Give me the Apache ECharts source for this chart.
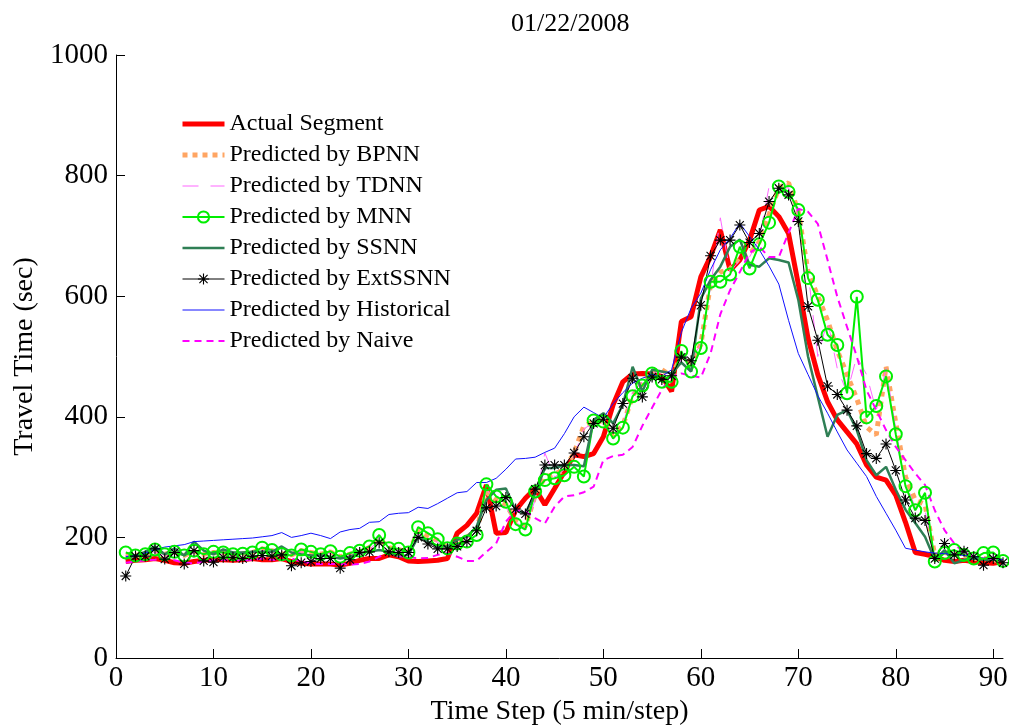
<!DOCTYPE html>
<html>
<head>
<meta charset="utf-8">
<script src="https://cdn.jsdelivr.net/npm/echarts@6/dist/echarts.min.js"></script>
<style>
  html, body { margin: 0; padding: 0; background: #fff; }
  #chart { width: 1009px; height: 726px; }
</style>
</head>
<body>
<div id="chart"></div>
<script>
// travel time per 5-min step, steps 1..91
const actual = [160, 162, 163, 165, 162, 158, 157, 160, 162, 163, 163, 162, 163, 165, 163, 163, 165, 160, 157, 156, 156, 156,
  154, 157, 162, 165, 165, 171, 168, 161, 160, 161, 162, 165, 207, 220, 240, 287, 207, 208, 245, 265, 281, 254, 281, 309,
  337, 334, 339, 367, 420, 458, 471, 472, 471, 467, 442, 558, 566, 632, 666, 710, 643, 660, 693, 743, 749, 732, 704,
  620, 530, 470, 425, 395, 375, 355, 320, 300, 295, 270, 225, 175, 172, 168, 162, 160, 162, 160, 158, 157, 160]

const bpnn = [172, 170, 173, 178, 172, 176, 170, 177, 172, 175, 174, 172, 173, 175, 181, 178, 173, 171, 178, 175, 172, 176,
  168, 172, 176, 183, 198, 183, 180, 175, 210, 203, 195, 183, 188, 200, 212, 275, 262, 255, 228, 218, 270, 300, 305, 312,
  340, 385, 392, 393, 370, 385, 435, 455, 475, 478, 468, 500, 490, 520, 620, 640, 645, 665, 670, 690, 735, 780, 788,
  740, 640, 600, 560, 510, 470, 430, 383, 370, 483, 390, 300, 262, 255, 170, 175, 172, 168, 165, 165, 163, 160]

const tdnn = [170, 168, 172, 176, 170, 174, 169, 175, 170, 173, 172, 170, 172, 174, 178, 176, 172, 170, 176, 174, 170, 174,
  166, 170, 174, 180, 195, 182, 178, 174, 205, 200, 192, 182, 186, 198, 210, 280, 258, 250, 225, 215, 262, 340, 300, 312,
  335, 380, 390, 390, 372, 388, 440, 458, 472, 475, 465, 495, 495, 520, 615, 730, 640, 660, 665, 695, 782, 778, 780,
  735, 640, 500, 560, 480, 440, 500, 470, 410, 480, 380, 290, 250, 245, 165, 175, 170, 167, 165, 164, 162, 160]

const mnn = [175, 170, 172, 180, 172, 176, 170, 178, 172, 176, 175, 172, 173, 175, 183, 179, 172, 170, 180, 176, 172, 177,
  168, 174, 178, 185, 204, 182, 181, 175, 217, 207, 197, 182, 190, 193, 204, 288, 268, 259, 222, 213, 276, 295, 298, 303,
  317, 301, 394, 392, 364, 382, 434, 452, 472, 458, 458, 509, 475, 514, 624, 624, 636, 682, 646, 686, 722, 782, 773,
  743, 630, 594, 536, 519, 439, 599, 399, 418, 467, 371, 285, 245, 274, 160, 174, 179, 171, 165, 174, 175, 161]

const ssnn = [165, 170, 176, 185, 172, 182, 170, 193, 178, 172, 180, 175, 175, 176, 176, 176, 185, 175, 172, 170, 170, 168,
  165, 168, 174, 176, 179, 176, 168, 171, 201, 193, 185, 185, 196, 201, 218, 262, 279, 281, 245, 240, 273, 315, 315, 320,
  320, 318, 395, 406, 389, 420, 483, 442, 478, 475, 472, 490, 475, 596, 627, 649, 682, 694, 652, 649, 663, 660, 656,
  594, 500, 433, 367, 403, 411, 378, 328, 303, 317, 279, 246, 224, 201, 163, 179, 157, 163, 165, 163, 163, 162]

const extSsnn = [136, 169, 169, 181, 164, 175, 156, 178, 161, 159, 167, 167, 165, 169, 170, 169, 171, 153, 158, 160, 165, 165,
  149, 163, 175, 176, 191, 176, 175, 175, 200, 189, 181, 181, 185, 193, 211, 249, 252, 266, 247, 239, 280, 320, 320, 320,
  340, 367, 389, 396, 381, 422, 464, 433, 466, 462, 468, 499, 493, 585, 667, 693, 693, 718, 689, 704, 757, 779, 768,
  724, 583, 527, 451, 437, 411, 385, 339, 331, 355, 311, 262, 232, 228, 165, 190, 171, 177, 168, 154, 165, 158]

const historical = [168, 170, 174, 180, 184, 186, 188, 193, 194, 195, 196, 197, 198, 199, 201, 203, 208, 200, 203, 207, 203, 198,
  209, 213, 215, 225, 226, 238, 240, 241, 250, 248, 256, 265, 274, 276, 291, 291, 298, 313, 330, 331, 333, 341, 348, 372,
  400, 416, 407, 398, 422, 440, 456, 464, 470, 467, 478, 540, 580, 605, 644, 677, 696, 721, 699, 677, 650, 620, 560,
  505, 470, 435, 406, 375, 345, 323, 301, 268, 240, 212, 182, 179, 176, 174, 173, 172, 170, 168, 166, 165, 163]

const naive = [158, 160, 162, 163, 165, 162, 158, 157, 160, 162, 163, 163, 162, 163, 165, 163, 163, 165, 160, 157, 156, 156,
  156, 155, 156, 160, 168, 174, 169, 168, 165, 166, 171, 174, 168, 161, 161, 176, 190, 226, 245, 243, 232, 223, 251, 268,
  270, 275, 284, 328, 335, 337, 350, 385, 415, 445, 467, 472, 468, 465, 505, 570, 610, 640, 672, 682, 665, 665, 705,
  745, 740, 720, 660, 599, 549, 500, 444, 411, 378, 350, 328, 306, 287, 245, 212, 190, 174, 168, 165, 164, 163]

const xTicks = [0, 10, 20, 30, 40, 50, 60, 70, 80, 90]
const yTicks = [0, 200, 400, 600, 800, 1000]

const names = ['Actual Segment', 'Predicted by BPNN', 'Predicted by TDNN', 'Predicted by MNN',
  'Predicted by SSNN', 'Predicted by ExtSSNN', 'Predicted by Historical', 'Predicted by Naive']

const FONT = 'Liberation Serif'
const starPath = 'path://M9 0H11V20H9Z M0 9H20V11H0Z M2 3.4L3.4 2L18 16.6L16.6 18Z M16.6 2L18 3.4L3.4 18L2 16.6Z'

function toPairs(arr) {
  return arr.map((v, i) => [i + 1, v])
}

// plain line, no markers (itemStyle hidden so the legend shows only the line)
function lineSeries(name, data, color, width, type, extra) {
  return Object.assign({
    name: name,
    type: 'line',
    data: toPairs(data),
    symbol: 'none',
    color: color,
    itemStyle: { color: color, opacity: 0 },
    lineStyle: { color: color, width: width, type: type },
    animation: false
  }, extra || {})
}

let myChart = echarts.init(document.getElementById('chart'))
myChart.setOption({
  animation: false,
  title: {
    text: '01/22/2008',
    left: 506,
    top: 6,
    textStyle: { fontFamily: FONT, fontSize: 26, fontWeight: 'normal', color: '#000' }
  },
  grid: { left: 116, right: 6, top: 55, bottom: 68, containLabel: false, outerBoundsMode: 'none' },
  legend: {
    orient: 'vertical',
    left: 180,
    top: 112,
    padding: 0,
    itemWidth: 42,
    itemHeight: 14,
    itemGap: 7,
    data: names,
    lineStyle: { width: 'inherit' },
    textStyle: { fontFamily: FONT, fontSize: 24, color: '#000', lineHeight: 24 }
  },
  xAxis: {
    type: 'value',
    min: 0,
    max: 91,
    interval: 10,
    name: 'Time Step (5 min/step)',
    nameLocation: 'middle',
    nameGap: 38,
    nameTextStyle: { fontFamily: FONT, fontSize: 28, color: '#000' },
    axisLine: { lineStyle: { color: '#000', width: 1 } },
    axisTick: { inside: true, length: 9, customValues: xTicks, lineStyle: { color: '#000' } },
    axisLabel: { customValues: xTicks, fontFamily: FONT, fontSize: 29, color: '#000', margin: 6 },
    splitLine: { show: false }
  },
  yAxis: {
    type: 'value',
    min: 0,
    max: 1000,
    interval: 200,
    name: 'Travel Time (sec)',
    nameLocation: 'middle',
    nameGap: 75,
    nameTextStyle: { fontFamily: FONT, fontSize: 28, color: '#000' },
    axisLine: { show: true, lineStyle: { color: '#000', width: 1 } },
    axisTick: { show: true, inside: true, length: 9, customValues: yTicks, lineStyle: { color: '#000' } },
    axisLabel: {
      customValues: yTicks, fontFamily: FONT, fontSize: 29, color: '#000', margin: 8,
      formatter: (v) => String(v)
    },
    splitLine: { show: false }
  },
  series: [
    lineSeries(names[0], actual, '#ff0000', 5, 'solid'),
    lineSeries(names[1], bpnn, '#ffa563', 5, [5, 5]),
    lineSeries(names[2], tdnn, '#ff66ff', 1, [16, 12]),
    lineSeries(names[3], mnn, '#00ee00', 2, 'solid', {
      symbol: 'circle',
      symbolSize: 12,
      showSymbol: true,
      itemStyle: { color: 'rgba(255,255,255,0)', borderColor: '#00ee00', borderWidth: 2 }
    }),
    lineSeries(names[4], ssnn, '#2f7f55', 2.5, 'solid'),
    lineSeries(names[5], extSsnn, '#000000', 1, 'solid', {
      symbol: starPath,
      symbolSize: 11,
      showSymbol: true,
      itemStyle: { color: '#000' }
    }),
    lineSeries(names[6], historical, '#1010ff', 1, 'solid'),
    lineSeries(names[7], naive, '#ff00ff', 2, [7, 5])
  ]
})
</script>
</body>
</html>
